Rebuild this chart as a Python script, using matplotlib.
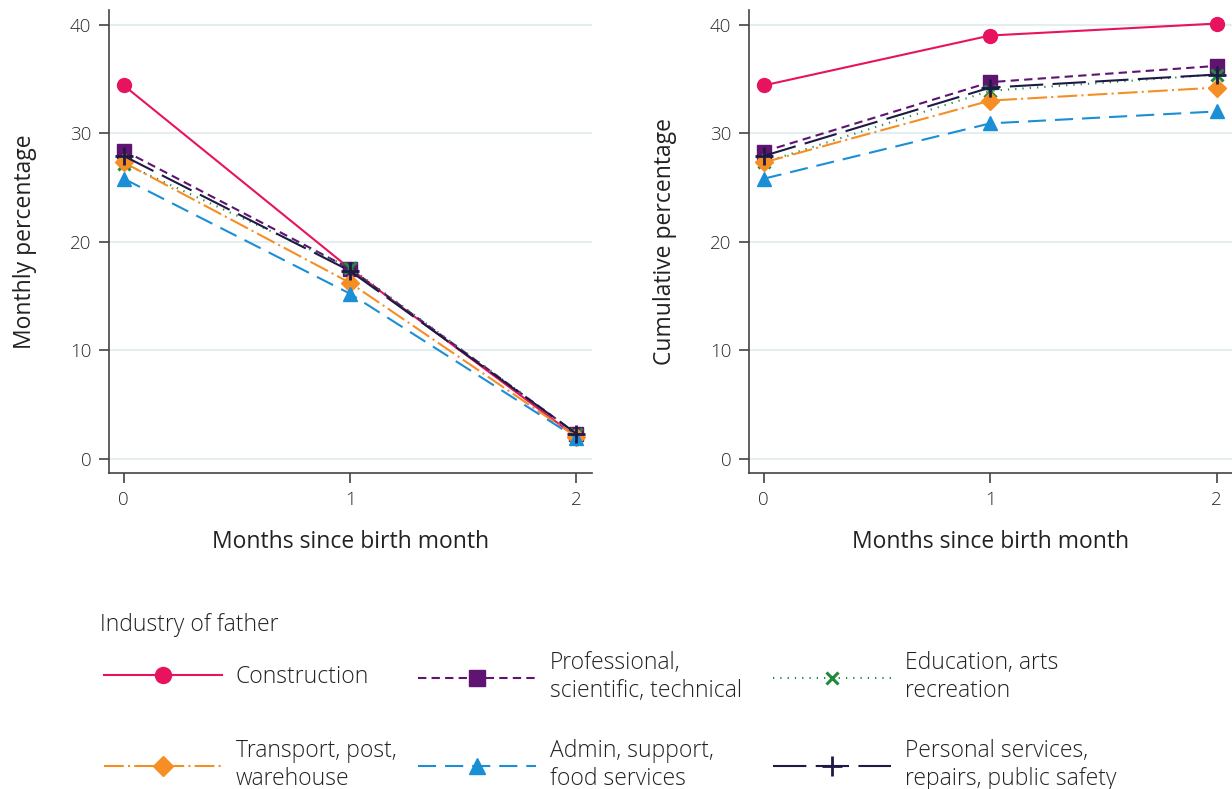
import matplotlib
matplotlib.use("Agg")
import matplotlib.pyplot as plt

plt.rcParams["font.family"] = ["Open Sans", "DejaVu Sans"]
plt.rcParams["font.weight"] = "light"
plt.rcParams["text.color"] = "#222222"
plt.rcParams["axes.labelcolor"] = "#222222"
plt.rcParams["xtick.color"] = "#444444"
plt.rcParams["ytick.color"] = "#444444"
plt.rcParams["xtick.labelcolor"] = "#2a2a2a"
plt.rcParams["ytick.labelcolor"] = "#2a2a2a"

months = [0, 1, 2]
industries = ["Construction", "Professional,\nscientific, technical",
              "Education, arts\nrecreation", "Transport, post,\nwarehouse",
              "Admin, support,\nfood services",
              "Personal services,\nrepairs, public safety"]

# monthly share of take-up, by month since birth
monthly_construction = [34.4, 17.5, 2.0]
monthly_professional = [28.4, 17.5, 2.3]
monthly_education = [27.2, 17.6, 2.3]
monthly_transport = [27.3, 16.2, 2.0]
monthly_admin = [25.8, 15.2, 1.9]
monthly_personal = [27.9, 17.3, 2.3]

# cumulative share
cumul_construction = [34.4, 39.0, 40.1]
cumul_professional = [28.3, 34.7, 36.2]
cumul_education = [27.3, 33.9, 35.4]
cumul_transport = [27.3, 33.0, 34.2]
cumul_admin = [25.8, 30.9, 32.0]
cumul_personal = [27.9, 34.2, 35.4]

monthly = [monthly_construction, monthly_professional, monthly_education,
           monthly_transport, monthly_admin, monthly_personal]
cumul = [cumul_construction, cumul_professional, cumul_education,
         cumul_transport, cumul_admin, cumul_personal]

styles = [
    dict(color="#e8135f", ls="-", marker="o", ms=10),
    dict(color="#5e1470", ls=(0, (4, 2.5)), marker="s", ms=10),
    dict(color="#1f8a3a", ls=(0, (0.6, 2.9)), marker="x", ms=8, mew=2.2),
    dict(color="#f68e26", ls=(0, (9.5, 2, 1, 2)), marker="D", ms=9),
    dict(color="#1a8fd6", ls=(0, (8.7, 4.3)), marker="^", ms=10),
    dict(color="#1d1a45", ls=(0, (16, 4.5)), marker="+", ms=13, mew=2),
]

FS = 16.5

fig = plt.figure(figsize=(12.32, 7.89), dpi=100)
ax1 = fig.add_axes([0.0887, 0.4009, 0.3916, 0.5864])
ax2 = fig.add_axes([0.6082, 0.4009, 0.3918, 0.5864])

handles = []
for ax, data, ylab in [(ax1, monthly, "Monthly percentage"),
                       (ax2, cumul, "Cumulative percentage")]:
    for vals, name, st in zip(data, industries, styles):
        ln, = ax.plot(months, vals, color=st["color"], ls=st["ls"], lw=1.5,
                      marker=st["marker"], ms=st["ms"], mew=st.get("mew", 1),
                      mfc=st["color"], mec=st["color"], label=name)
        if ax is ax1:
            handles.append(ln)
    ax.set_xlim(-0.064, 2.068)
    ax.set_ylim(-1.3, 41.35)
    ax.set_xticks(months)
    ax.set_yticks([0, 10, 20, 30, 40])
    ax.grid(axis="y", color="#e6edf1", lw=1.5)
    ax.set_axisbelow(True)
    for s in ["top", "right"]:
        ax.spines[s].set_visible(False)
    for s in ["left", "bottom"]:
        ax.spines[s].set_color("#444444")
        ax.spines[s].set_linewidth(1.2)
    ax.tick_params(labelsize=13.5, length=7, width=1.2, pad=6)
    ax.set_xlabel("Months since birth month", fontsize=FS, labelpad=15)
    ax.set_ylabel(ylab, fontsize=FS, labelpad=23.5)

fig.text(100 / 1232, 1 - 625 / 789, "Industry of father", fontsize=FS,
         va="center", ha="left")

# legend laid out on a fixed grid: one small legend per entry
col_x = [104, 418, 773]
row_y = [677, 765]
for i, h in enumerate(handles):
    x, y = col_x[i % 3], row_y[i // 3]
    fig.legend([h], [industries[i]], loc="center left",
               bbox_to_anchor=(x / 1232, 1 - y / 789),
               frameon=False, fontsize=FS, handlelength=5.15,
               handletextpad=0.6, borderpad=0, borderaxespad=0,
               markerscale=1.15)

fig.savefig("out.png", dpi=100)
